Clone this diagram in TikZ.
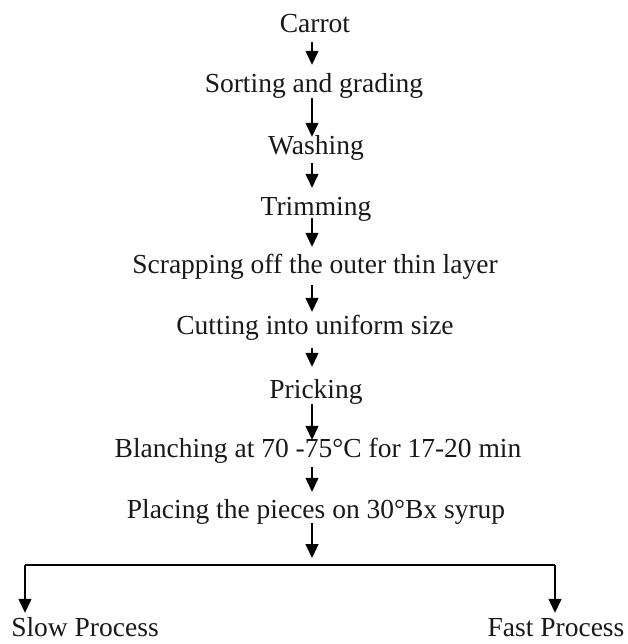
\documentclass[tikz,border=0pt]{standalone}
\usepackage{fontspec}
\setmainfont{Liberation Serif}
\usetikzlibrary{arrows.meta}
\begin{document}
\begin{tikzpicture}[x=1pt,y=-1pt,
  lbl/.style={anchor=base, inner sep=0pt, text height=19pt, text depth=7pt,
    font=\fontsize{27.5}{30}\selectfont, text=black!90},
  arr/.style={line width=1.3pt, -{Triangle[width=13pt,length=14pt]}},
  bar/.style={line width=1.3pt}]
\fill[white] (0,0) rectangle (627,644);
\useasboundingbox (0,0) rectangle (627,644);
\coordinate (ax) at (312,0);
\node[lbl] (carrot) at (315,33) {Carrot};
\node[lbl] (sort) at (314,93) {Sorting and grading};
\node[lbl] (wash) at (316,155) {Washing};
\node[lbl] (trim) at (316,215) {Trimming};
\node[lbl] (scrap) at (315,273) {Scrapping off the outer thin layer};
\node[lbl] (cut) at (315,334) {Cutting into uniform size};
\node[lbl] (prick) at (316,398) {Pricking};
\node[lbl] (blanch) at (318,457) {Blanching at 70 -75°C for 17-20 min};
\node[lbl] (place) at (316,518) {Placing the pieces on 30°Bx syrup};
\node[lbl] (slow) at (85,636) {Slow Process};
\node[lbl] (fast) at (556,636) {Fast Process};
\coordinate (split) at (312,565);
\coordinate (lc) at (25,565);
\coordinate (rc) at (555,565);
\draw[arr] ([yshift=-2pt]carrot.south -| ax) -- ([yshift=9pt]sort.north -| ax);
\draw[arr] ([yshift=2pt]sort.south -| ax) -- ([yshift=-1pt]wash.north -| ax);
\draw[arr] ([yshift=-1pt]wash.south -| ax) -- ([yshift=8pt]trim.north -| ax);
\draw[arr] ([yshift=4pt]trim.south -| ax) -- ([yshift=7pt]scrap.north -| ax);
\draw[arr] ([yshift=-5pt]scrap.south -| ax) -- ([yshift=3pt]cut.north -| ax);
\draw[arr] ([yshift=-7pt]cut.south -| ax) -- ([yshift=12pt]prick.north -| ax);
\draw[arr] ([yshift=1pt]prick.south -| ax) -- ([yshift=-2pt]blanch.north -| ax);
\draw[arr] ([yshift=-3pt]blanch.south -| ax) -- ([yshift=7pt]place.north -| ax);
\draw[arr] ([yshift=2pt]place.south -| ax) -- ([yshift=7pt]split);
\draw[bar] (lc) -- (rc);
\draw[arr] (lc) -- ([yshift=4pt]slow.north -| lc);
\draw[arr] (rc) -- ([yshift=4pt]fast.north -| rc);
\end{tikzpicture}
\end{document}
